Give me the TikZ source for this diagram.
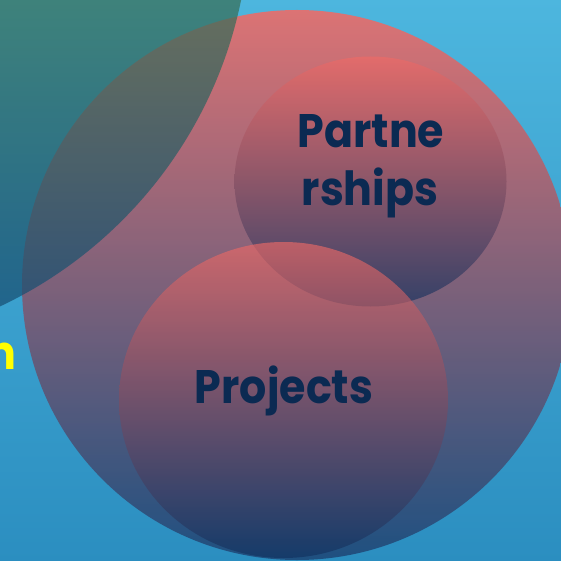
\documentclass[tikz,border=0pt]{standalone}
\usepackage{fontspec}
\setmainfont{Poppins}
\newfontfamily\lblfont{Poppins}[FakeStretch=0.91]
\usetikzlibrary{shapes.geometric}
\definecolor{bgtop}{HTML}{4DB6DE}
\definecolor{bgbot}{HTML}{2B8EC0}
\definecolor{grtop}{HTML}{3A6F55}
\definecolor{grbot}{HTML}{134A78}
\definecolor{pinktop}{HTML}{F06A66}
\definecolor{bigbot}{HTML}{1D4878}
\definecolor{innerbot}{HTML}{10305E}
\definecolor{navy}{HTML}{0B2A52}
\definecolor{yel}{HTML}{FFFF00}
\begin{document}
\begin{tikzpicture}[x=1pt,y=-1pt,
  bigdisc/.style={circle, inner sep=0pt, minimum size=550pt, top color=pinktop, bottom color=bigbot, fill opacity=0.88, draw=none},
  innerdisc/.style={ellipse, inner sep=0pt, top color=pinktop, bottom color=innerbot, fill opacity=0.64, draw=none},
  label/.style={text=navy, font=\lblfont\bfseries\fontsize{47}{57}\selectfont, inner sep=0pt, anchor=base, text opacity=1}]
\useasboundingbox (0,0) rectangle (560,561);
\shade[top color=bgtop, bottom color=bgbot] (-2,-2) rectangle (562,563);
% large disc
\node[bigdisc] (big) at (297,285) {};
% top-left disc
\begin{scope}
  \clip (-186,-88) circle (436);
  \shade[top color=grtop, bottom color=grbot, fill opacity=0.72] (-5,-5) rectangle (300,350);
\end{scope}
% inner discs
\node[innerdisc, minimum width=272pt, minimum height=250pt] (partner) at (370.5,181.5) {};
\node[innerdisc, minimum width=329pt, minimum height=316pt] (project) at (283.5,400) {};
% texts
\node[label] (ptext1) at (371,148) {Partne};
\node[label] (ptext2) at (370,205) {rships};
\node[label] (prtext) at (284,403) {Projects};
\node[text=yel, font=\lblfont\bfseries\fontsize{47}{57}\selectfont, inner sep=0pt, anchor=base east] (nfrag) at (17,369) {n};
\end{tikzpicture}
\end{document}
